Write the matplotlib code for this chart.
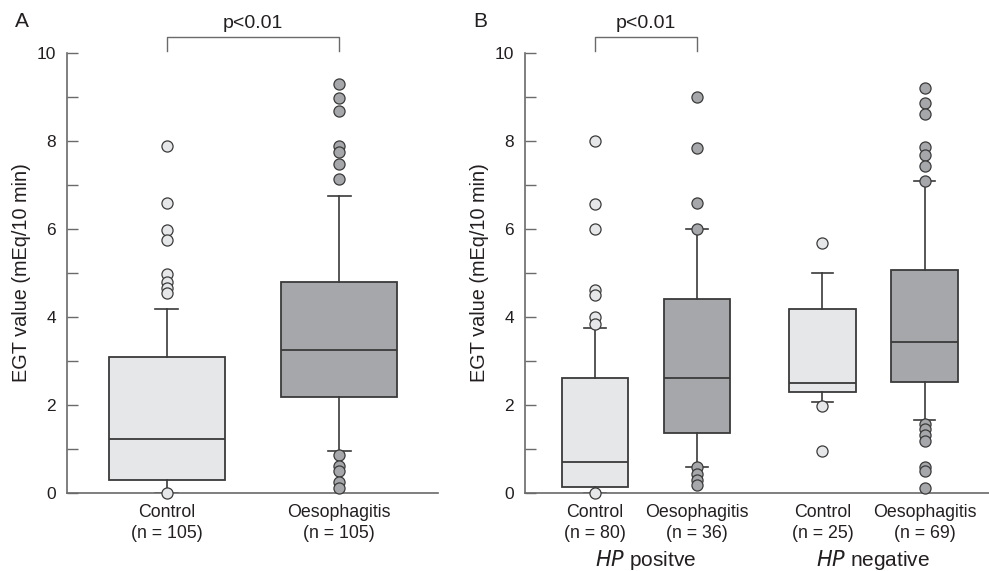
import matplotlib.pyplot as plt
import matplotlib.transforms as mtransforms
from matplotlib.ticker import MultipleLocator

plt.rcParams['font.family'] = ['Liberation Sans', 'DejaVu Sans']

# ---- summary statistics (EGT, mEq/10 min) ----
# panel A: all patients
a_labels = ['Control\n(n = 105)', 'Oesophagitis\n(n = 105)']
a_q1 = [0.30, 2.19]
a_med = [1.23, 3.26]
a_q3 = [3.10, 4.79]
a_whislo = [0.0, 0.95]
a_whishi = [4.18, 6.74]
a_fliers = [
    [7.88, 6.59, 5.97, 5.75, 4.98, 4.80, 4.65, 4.55, 0.0],
    [9.28, 8.97, 8.68, 7.89, 7.75, 7.47, 7.13, 0.88, 0.62, 0.51, 0.26, 0.11],
]

# panel B: split by HP status
b_labels = ['Control\n(n = 80)', 'Oesophagitis\n(n = 36)',
            'Control\n(n = 25)', 'Oesophagitis\n(n = 69)']
b_q1 = [0.15, 1.36, 2.29, 2.52]
b_med = [0.72, 2.62, 2.50, 3.43]
b_q3 = [2.61, 4.40, 4.18, 5.08]
b_whislo = [0.0, 0.60, 2.08, 1.66]
b_whishi = [3.76, 6.00, 4.99, 7.09]
b_fliers = [
    [8.00, 6.56, 6.00, 4.61, 4.50, 4.01, 3.84, 0.0],
    [9.00, 7.83, 6.60, 6.00, 0.60, 0.45, 0.30, 0.19],
    [5.69, 1.98, 0.95],
    [9.19, 8.87, 8.62, 7.87, 7.67, 7.43, 7.09,
     1.57, 1.45, 1.32, 1.19, 0.60, 0.51, 0.11],
]
b_groups = ['positve', 'negative']

light = '#e6e7e8'
dark = '#a6a7aa'
edge = '#3a3a3a'
axcol = '#6a6a6a'
txt = '#231f20'


def make_stats(q1, med, q3, lo, hi, fl):
    return [dict(q1=a, med=b, q3=c, whislo=d, whishi=e, fliers=f)
            for a, b, c, d, e, f in zip(q1, med, q3, lo, hi, fl)]


def draw(ax, stats, pos, width, capw, fills):
    res = ax.bxp(stats, positions=pos, widths=width, capwidths=capw,
                 patch_artist=True, showfliers=True,
                 boxprops=dict(edgecolor=edge, linewidth=1.3),
                 medianprops=dict(color=edge, linewidth=1.3),
                 whiskerprops=dict(color=edge, linewidth=1.2),
                 capprops=dict(color=edge, linewidth=1.2),
                 flierprops=dict(marker='o', markersize=8, markeredgecolor=edge,
                                 markeredgewidth=0.9))
    for box, fc in zip(res['boxes'], fills):
        box.set_facecolor(fc)
    for fli, fc in zip(res['fliers'], fills):
        fli.set_markerfacecolor(fc)
        fli.set_clip_on(False)
        fli.set_zorder(5)
    ax.set_ylim(0, 10)
    ax.yaxis.set_major_locator(MultipleLocator(2))
    ax.yaxis.set_minor_locator(MultipleLocator(1))
    ax.tick_params(axis='y', which='both', direction='in', length=8,
                   width=1.0, color=axcol, pad=8, labelsize=12.5, labelcolor=txt)
    ax.tick_params(axis='x', length=0, pad=8, labelsize=12.8, labelcolor=txt)
    for lab in ax.get_xticklabels():
        lab.set_linespacing(1.3)
    for s in ['top', 'right']:
        ax.spines[s].set_visible(False)
    for s in ['left', 'bottom']:
        ax.spines[s].set_color(axcol)
        ax.spines[s].set_linewidth(1.2)
    ax.set_ylabel('EGT value (mEq/10 min)', fontsize=14.3, color=txt, labelpad=4)


def bracket(ax, x0, x1):
    kw = dict(color=axcol, linewidth=1.0, clip_on=False)
    ax.plot([x0, x0, x1, x1], [10.04, 10.35, 10.35, 10.04], **kw)
    ax.text((x0 + x1) / 2, 10.48, 'p<0.01', ha='center', va='bottom',
            fontsize=14, color=txt)


fig = plt.figure(figsize=(9.89, 5.71), dpi=100)
axA = fig.add_axes([0.0677, 0.136, 0.375, 0.7716])
axB = fig.add_axes([0.5308, 0.136, 0.469, 0.7716])

posA = [1, 2]
draw(axA, make_stats(a_q1, a_med, a_q3, a_whislo, a_whishi, a_fliers),
     posA, 0.677, 0.134, [light, dark])
axA.set_xlim(0.42, 2.573)
axA.set_xticks(posA, a_labels)
bracket(axA, 1, 2)

posB = [1, 2, 3.23, 4.23]
draw(axB, make_stats(b_q1, b_med, b_q3, b_whislo, b_whishi, b_fliers),
     posB, 0.65, 0.21, [light, dark, light, dark])
axB.set_xlim(0.314, 4.86)
axB.set_xticks(posB, b_labels)
bracket(axB, 1, 2)

trans = mtransforms.blended_transform_factory(axB.transData, axB.transAxes)
for i, g in enumerate(b_groups):
    xc = (posB[2 * i] + posB[2 * i + 1]) / 2
    axB.text(xc, -0.151, r'$\it{HP}$ ' + g, transform=trans, ha='center',
             va='center', fontsize=15, color=txt)

fig.text(15 / 989, 1 - 21.7 / 571, 'A', ha='left', va='center', fontsize=15, color=txt)
fig.text(473 / 989, 1 - 21.7 / 571, 'B', ha='left', va='center', fontsize=15, color=txt)

fig.savefig('out.png', dpi=100)
